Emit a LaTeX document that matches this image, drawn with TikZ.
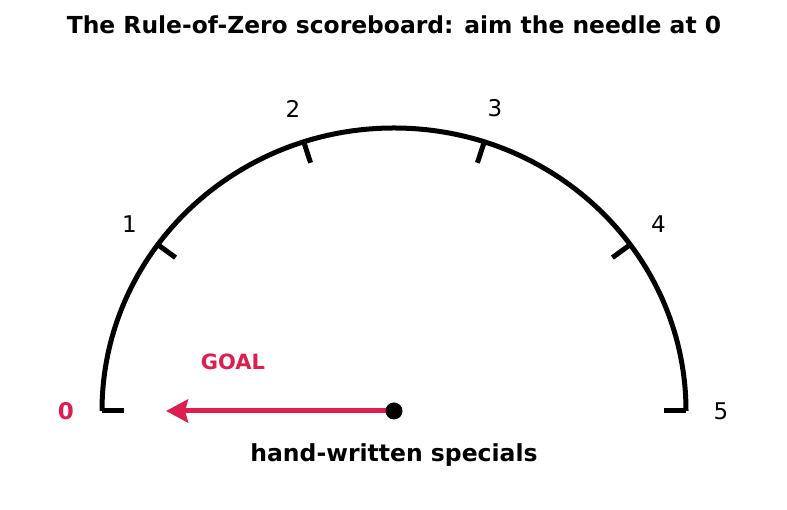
\documentclass[tikz,border=0pt]{standalone}
\usepackage{fontspec}
\setmainfont{DejaVu Sans}
\usepackage{xcolor}
\usepackage{tikz}
\usetikzlibrary{arrows.meta,positioning,calc}

\definecolor{goalred}{RGB}{220,30,80}

\begin{document}
\begin{tikzpicture}[
    x=1pt, y=1pt,
    dial/.style={line width=5pt, black},
    tick/.style={line width=5pt, black},
    num/.style={font=\fontsize{23}{27}\selectfont, inner sep=0pt},
    needle/.style={-{Stealth[length=22pt,width=23pt,inset=3pt]}, line width=5pt, goalred},
    heading/.style={font=\fontsize{23.4}{27}\selectfont\bfseries, inner sep=0pt}
]
\useasboundingbox (0,0) rectangle (787,510);

% Title
\node[heading] (title) at (394,485) {The Rule-of-Zero scoreboard: aim the needle at 0};

% Dial
\coordinate (hub) at (394,99);
\draw[dial] (686,99) arc[start angle=0, end angle=180, x radius=292, y radius=283];

% Ticks
\foreach \k in {0,...,5} {
    \draw[tick] ($(hub)+({36*(5-\k)}:292 and 283)$) -- ($(hub)+({36*(5-\k)}:270 and 261)$);
}

% Numbers
\foreach \k in {1,...,5} {
    \node[num] (n\k) at ($(hub)+({36*(5-\k)}:327 and 318)$) {\k};
}
\node[num, font=\fontsize{23}{27}\selectfont\bfseries, text=goalred] (n0) at (66,99) {0};

% Needle
\coordinate (tip) at (166,99);
\draw[needle] (hub) -- (tip);
\node[circle, fill=black, minimum size=17pt, inner sep=0pt] (pin) at (hub) {};

% Annotation
\node[font=\fontsize{21}{25}\selectfont\bfseries, text=goalred, inner sep=0pt] (goal) at (233,148) {GOAL};
\node[font=\fontsize{23.5}{28}\selectfont\bfseries, inner sep=0pt] (caption) at (394,55) {hand-written specials};

\end{tikzpicture}
\end{document}
